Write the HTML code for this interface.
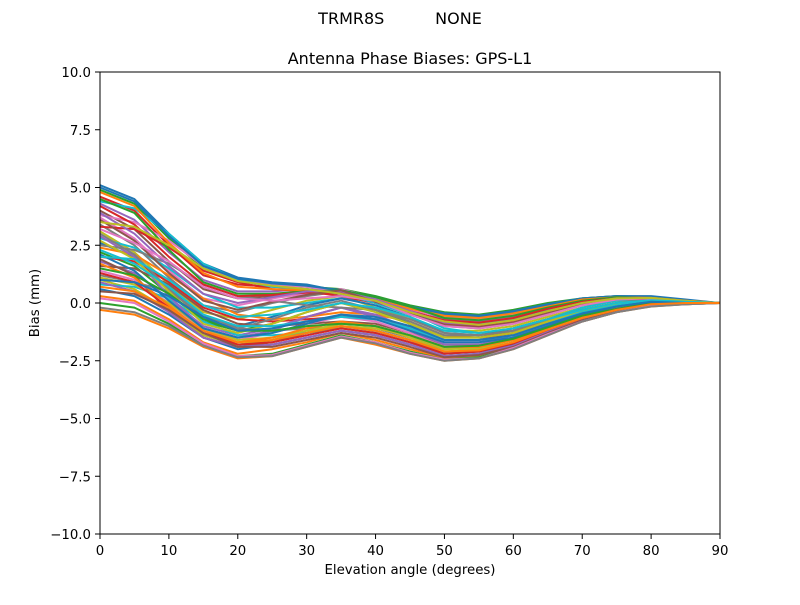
<!DOCTYPE html>
<html><head><meta charset="utf-8"><style>
body{margin:0;background:#fff;font-family:"Liberation Sans","DejaVu Sans",sans-serif}
svg text{font-family:"DejaVu Sans","Liberation Sans",sans-serif}
</style></head><body>
<svg id="chart" width="800" height="600" xmlns="http://www.w3.org/2000/svg">
<rect width="800" height="600" fill="#fff"/>
<text x="400" y="24" font-size="16" text-anchor="middle" xml:space="preserve">TRMR8S          NONE</text>
<text x="410" y="64" font-size="16" text-anchor="middle">Antenna Phase Biases: GPS-L1</text>
<g id="lines"></g>
<rect x="100" y="72" width="620" height="462" fill="none" stroke="#000" stroke-width="1"/>
<g id="xt"></g>
<g id="yt"></g>
<text x="410" y="574" font-size="13.3" text-anchor="middle">Elevation angle (degrees)</text>
<text transform="translate(39,303) rotate(-90)" font-size="13.3" text-anchor="middle">Bias (mm)</text>
</svg>
<script>
const elevations=[0,5,10,15,20,25,30,35,40,45,50,55,60,65,70,75,80,85,90];
const xTicks=[0,10,20,30,40,50,60,70,80,90];
const yTicks=[-10,-7.5,-5,-2.5,0,2.5,5,7.5,10];
const yTickLabels=["\u221210.0","\u22127.5","\u22125.0","\u22122.5","0.0","2.5","5.0","7.5","10.0"];
const series=[
[5.1,4.5,3.0,1.7,1.1,0.9,0.8,0.5,0.2,-0.2,-0.5,-0.6,-0.4,-0.1,0.2,0.3,0.3,0.15,0],
[-0.3,-0.5,-1.1,-1.9,-2.4,-2.3,-1.9,-1.5,-1.8,-2.2,-2.5,-2.4,-2.0,-1.4,-0.8,-0.4,-0.15,-0.05,0],
[4.9,4.3,2.8,1.5,1.0,0.8,0.7,0.6,0.3,-0.1,-0.4,-0.5,-0.3,0.0,0.2,0.3,0.25,0.1,0],
[4.6,4.0,2.5,1.2,0.8,0.7,0.6,0.4,0.1,-0.3,-0.6,-0.7,-0.5,-0.2,0.1,0.2,0.2,0.1,0],
[4.3,3.6,2.2,1.0,0.5,0.5,0.6,0.5,0.2,-0.2,-0.7,-0.8,-0.6,-0.2,0.1,0.25,0.2,0.1,0],
[4.0,3.2,1.8,0.6,0.2,0.3,0.5,0.4,0.1,-0.4,-0.8,-0.9,-0.7,-0.3,0.0,0.2,0.2,0.1,0],
[3.7,2.8,1.4,0.2,-0.1,0.2,0.4,0.6,0.2,-0.3,-0.9,-1.0,-0.8,-0.4,0.0,0.2,0.2,0.1,0],
[3.4,2.5,1.1,-0.1,-0.4,0.0,0.3,0.5,0.0,-0.5,-1.0,-1.1,-0.9,-0.5,-0.1,0.1,0.15,0.05,0],
[3.1,2.2,0.8,-0.4,-0.7,-0.3,0.1,0.3,-0.2,-0.7,-1.2,-1.2,-1.0,-0.6,-0.2,0.1,0.15,0.05,0],
[2.8,2.4,1.5,0.4,-0.2,-0.2,0.0,0.2,0.1,-0.4,-1.1,-1.3,-1.1,-0.7,-0.2,0.1,0.2,0.1,0],
[2.6,2.0,0.6,-0.6,-1.0,-0.6,-0.1,0.2,-0.1,-0.6,-1.3,-1.4,-1.1,-0.7,-0.3,0.0,0.1,0.05,0],
[2.4,2.1,1.2,0.2,-0.5,-0.7,-0.6,-0.4,-0.5,-0.8,-1.4,-1.5,-1.2,-0.8,-0.3,0.0,0.15,0.05,0],
[2.2,1.6,0.4,-0.8,-1.2,-0.9,-0.4,0.0,-0.3,-0.9,-1.5,-1.5,-1.3,-0.8,-0.4,-0.1,0.1,0.05,0],
[2.0,1.8,0.9,-0.2,-0.7,-0.8,-0.7,-0.6,-0.7,-1.0,-1.6,-1.6,-1.3,-0.9,-0.4,-0.1,0.1,0.0,0],
[1.8,1.3,0.2,-1.0,-1.4,-1.1,-0.6,-0.2,-0.5,-1.1,-1.7,-1.7,-1.4,-0.9,-0.5,-0.2,0.05,0.0,0],
[1.6,1.5,0.8,-0.3,-0.9,-1.0,-0.9,-0.8,-0.9,-1.3,-1.8,-1.8,-1.5,-1.0,-0.5,-0.2,0.05,0.0,0],
[1.4,1.0,0.0,-1.2,-1.6,-1.3,-0.9,-0.6,-0.8,-1.3,-1.9,-1.9,-1.6,-1.1,-0.6,-0.25,0.0,0.0,0],
[1.2,0.9,0.5,-0.5,-1.1,-1.2,-1.1,-1.0,-1.1,-1.5,-2.0,-1.9,-1.6,-1.1,-0.6,-0.3,0.0,0.0,0],
[1.0,0.6,-0.3,-1.4,-1.8,-1.6,-1.2,-0.9,-1.0,-1.5,-2.1,-2.0,-1.7,-1.2,-0.7,-0.3,-0.05,0.0,0],
[0.8,0.7,0.2,-0.8,-1.4,-1.4,-1.3,-1.1,-1.3,-1.7,-2.2,-2.1,-1.8,-1.2,-0.7,-0.35,-0.1,0.0,0],
[0.6,0.3,-0.5,-1.5,-2.0,-1.8,-1.5,-1.2,-1.4,-1.8,-2.3,-2.2,-1.8,-1.3,-0.75,-0.35,-0.1,0.0,0],
[0.3,0.1,-0.7,-1.7,-2.2,-2.0,-1.7,-1.3,-1.6,-2.0,-2.4,-2.3,-1.9,-1.3,-0.8,-0.4,-0.1,-0.05,0],
[0.0,-0.2,-0.9,-1.8,-2.3,-2.2,-1.8,-1.4,-1.7,-2.1,-2.45,-2.35,-1.95,-1.35,-0.8,-0.4,-0.12,-0.05,0],
[3.3,3.2,2.4,1.4,0.9,0.6,0.5,0.3,0.0,-0.4,-0.9,-1.0,-0.8,-0.4,0.0,0.2,0.2,0.1,0],
[2.9,2.0,0.3,-1.1,-1.5,-1.2,-0.6,-0.2,-0.6,-1.2,-1.8,-1.8,-1.5,-1.0,-0.5,-0.2,0.05,0.0,0],
[1.9,1.2,-0.4,-1.5,-1.9,-1.7,-1.3,-1.0,-1.2,-1.6,-2.2,-2.1,-1.7,-1.2,-0.7,-0.3,-0.05,0.0,0],
[3.8,3.5,2.7,1.6,1.0,0.8,0.7,0.5,0.2,-0.3,-0.6,-0.7,-0.5,-0.2,0.1,0.25,0.25,0.1,0],
[2.5,2.3,1.7,0.8,0.3,0.1,-0.1,-0.2,-0.3,-0.7,-1.3,-1.4,-1.2,-0.7,-0.3,0.0,0.15,0.05,0],
[1.1,0.8,0.0,-1.1,-1.6,-1.5,-1.2,-1.0,-1.1,-1.4,-2.0,-1.95,-1.6,-1.1,-0.6,-0.3,0.0,0.0,0],
[4.4,4.1,3.0,1.7,1.0,0.7,0.6,0.4,0.0,-0.5,-0.8,-0.9,-0.7,-0.3,0.05,0.2,0.2,0.1,0],
[5.0,4.4,2.9,1.6,1.05,0.85,0.75,0.55,0.25,-0.15,-0.45,-0.55,-0.35,-0.05,0.2,0.3,0.28,0.12,0],
[4.8,4.2,2.6,1.3,0.7,0.6,0.55,0.45,0.15,-0.25,-0.55,-0.65,-0.45,-0.15,0.15,0.25,0.22,0.1,0],
[4.5,3.9,2.3,0.9,0.4,0.4,0.5,0.55,0.25,-0.15,-0.65,-0.75,-0.55,-0.2,0.1,0.25,0.2,0.1,0],
[4.2,3.4,2.0,0.8,0.3,0.35,0.45,0.45,0.1,-0.35,-0.75,-0.85,-0.65,-0.25,0.05,0.2,0.2,0.1,0],
[3.9,3.0,1.6,0.4,0.0,0.25,0.5,0.5,0.15,-0.35,-0.85,-0.95,-0.75,-0.35,0.0,0.2,0.2,0.1,0],
[3.6,2.7,1.3,0.1,-0.3,0.05,0.35,0.55,0.05,-0.45,-0.95,-1.05,-0.85,-0.45,-0.05,0.15,0.18,0.08,0],
[3.2,2.6,1.8,0.7,0.2,0.1,0.2,0.3,0.1,-0.5,-1.0,-1.1,-0.9,-0.5,-0.1,0.15,0.2,0.08,0],
[3.0,2.1,0.6,-0.7,-1.1,-0.7,-0.2,0.1,-0.3,-0.8,-1.4,-1.4,-1.2,-0.7,-0.3,0.0,0.1,0.05,0],
[2.7,1.9,0.5,-0.9,-1.3,-0.9,-0.4,0.0,-0.4,-0.9,-1.5,-1.5,-1.3,-0.8,-0.35,-0.05,0.1,0.05,0],
[2.3,1.7,0.7,-0.5,-1.0,-1.0,-0.8,-0.6,-0.7,-1.1,-1.6,-1.6,-1.4,-0.9,-0.4,-0.1,0.1,0.0,0],
[2.1,1.4,0.1,-1.1,-1.5,-1.3,-0.9,-0.5,-0.7,-1.2,-1.7,-1.7,-1.5,-1.0,-0.5,-0.15,0.05,0.0,0],
[1.7,1.1,-0.1,-1.3,-1.7,-1.5,-1.1,-0.8,-1.0,-1.4,-1.9,-1.9,-1.6,-1.1,-0.6,-0.25,0.0,0.0,0],
[1.5,1.2,0.4,-0.7,-1.2,-1.2,-1.0,-0.9,-1.0,-1.4,-1.9,-1.85,-1.55,-1.05,-0.55,-0.25,0.0,0.0,0],
[1.3,0.9,-0.2,-1.3,-1.8,-1.7,-1.4,-1.1,-1.3,-1.7,-2.2,-2.1,-1.75,-1.2,-0.7,-0.3,-0.05,0.0,0],
[0.9,0.5,-0.4,-1.5,-1.9,-1.8,-1.5,-1.2,-1.4,-1.8,-2.3,-2.2,-1.85,-1.25,-0.75,-0.35,-0.1,0.0,0],
[0.5,0.4,-0.3,-1.3,-1.9,-1.9,-1.6,-1.3,-1.5,-1.9,-2.35,-2.25,-1.9,-1.3,-0.75,-0.35,-0.1,0.0,0],
[0.2,0.0,-0.8,-1.75,-2.3,-2.25,-1.85,-1.45,-1.7,-2.15,-2.45,-2.4,-1.95,-1.35,-0.8,-0.4,-0.12,-0.05,0],
[-0.2,-0.4,-1.0,-1.85,-2.35,-2.3,-1.9,-1.5,-1.75,-2.2,-2.5,-2.4,-2.0,-1.4,-0.8,-0.4,-0.15,-0.05,0],
[3.5,3.3,2.5,1.5,0.95,0.75,0.6,0.4,0.1,-0.4,-0.8,-0.95,-0.75,-0.35,0.0,0.2,0.22,0.1,0],
[2.0,1.9,1.0,-0.1,-0.6,-0.5,-0.3,0.0,-0.2,-0.6,-1.2,-1.3,-1.1,-0.7,-0.3,0.0,0.12,0.05,0],
[1.0,0.9,0.3,-0.6,-1.2,-1.1,-0.8,-0.5,-0.6,-1.0,-1.6,-1.6,-1.4,-0.9,-0.45,-0.15,0.05,0.0,0],
[0.7,0.5,-0.2,-1.2,-1.7,-1.6,-1.3,-1.0,-1.2,-1.6,-2.1,-2.05,-1.7,-1.15,-0.65,-0.3,-0.05,0.0,0]
];
const colors=["#1f77b4","#ff7f0e","#2ca02c","#d62728","#9467bd","#8c564b","#e377c2","#7f7f7f","#bcbd22","#17becf"];
const NS="http://www.w3.org/2000/svg";
function xs(v){return 100+(v-0)/90*620;}
function ys(v){return 534-(v+10)/20*462;}
const g=document.getElementById('lines');
series.forEach((s,i)=>{
  const p=document.createElementNS(NS,'polyline');
  p.setAttribute('points',s.map((v,j)=>xs(elevations[j]).toFixed(1)+','+ys(v).toFixed(1)).join(' '));
  p.setAttribute('fill','none');p.setAttribute('stroke',colors[i%10]);p.setAttribute('stroke-width','2');
  p.setAttribute('stroke-linejoin','round');
  
  
  g.appendChild(p);
});
const xt=document.getElementById('xt');
xTicks.forEach(t=>{
  const l=document.createElementNS(NS,'line');
  l.setAttribute('x1',xs(t));l.setAttribute('x2',xs(t));l.setAttribute('y1',534);l.setAttribute('y2',539);l.setAttribute('stroke','#000');
  
  
  xt.appendChild(l);
  const tx=document.createElementNS(NS,'text');
  tx.setAttribute('x',xs(t));tx.setAttribute('y',555);tx.setAttribute('font-size','13.3');tx.setAttribute('text-anchor','middle');
  tx.textContent=t;
  
  
  xt.appendChild(tx);
});
const yt=document.getElementById('yt');
yTicks.forEach((t,i)=>{
  const l=document.createElementNS(NS,'line');
  l.setAttribute('x1',95);l.setAttribute('x2',100);l.setAttribute('y1',ys(t));l.setAttribute('y2',ys(t));l.setAttribute('stroke','#000');
  
  
  yt.appendChild(l);
  const tx=document.createElementNS(NS,'text');
  tx.setAttribute('x',91);tx.setAttribute('y',ys(t)+5);tx.setAttribute('font-size','13.3');tx.setAttribute('text-anchor','end');
  tx.textContent=yTickLabels[i];
  
  
  yt.appendChild(tx);
});
</script>
</body></html>
